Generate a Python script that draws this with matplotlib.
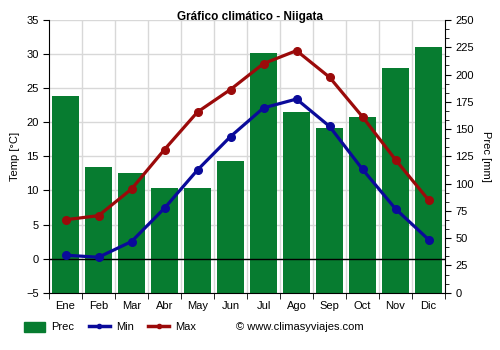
import matplotlib
matplotlib.use("Agg")
import matplotlib.pyplot as plt
import numpy as np
from matplotlib.ticker import MultipleLocator, FixedLocator
from matplotlib.patches import Patch
from matplotlib.lines import Line2D

plt.rcParams["font.family"] = ["Liberation Sans", "DejaVu Sans"]

months = ["Ene", "Feb", "Mar", "Abr", "May", "Jun", "Jul", "Ago", "Sep", "Oct", "Nov", "Dic"]
prec = [180, 115, 110, 96, 96, 121, 220, 166, 151, 161, 206, 225]
t_min = [0.5, 0.2, 2.5, 7.4, 13.0, 17.9, 22.1, 23.4, 19.4, 13.1, 7.3, 2.8]
t_max = [5.7, 6.3, 10.2, 16.0, 21.5, 24.8, 28.6, 30.5, 26.6, 20.8, 14.5, 8.6]

GREEN = "#077c30"
BLUE = "#0a0a9a"
RED = "#9b0a0a"

fig = plt.figure(figsize=(5, 3.5), dpi=100)
ax = fig.add_axes([0.098, 0.1637, 0.792, 0.7793])
ax2 = ax.twinx()

x = np.arange(len(months))

# precipitation on the right axis, drawn behind the temperature lines
ax2.bar(x, prec, width=0.8, color=GREEN, zorder=2)
ax2.set_ylim(0, 250)
ax2.yaxis.set_major_locator(MultipleLocator(25))
ax2.yaxis.set_minor_locator(MultipleLocator(25 / 3))
ax2.set_ylabel("Prec [mm]", fontsize=8, rotation=270, labelpad=12)

ax.set_zorder(ax2.get_zorder() + 1)
ax.patch.set_visible(False)

ax.plot(x, t_min, color=BLUE, lw=2.3, marker="o", ms=5.5, zorder=4)
ax.plot(x, t_max, color=RED, lw=2.3, marker="o", ms=5.5, zorder=4)
ax.axhline(0, color="black", lw=1, zorder=3)

ax.set_ylim(-5, 35)
ax.set_xlim(-0.5, 11.5)
ax.yaxis.set_major_locator(MultipleLocator(5))
ax.set_xticks(x)
ax.set_xticklabels(months)
ax.xaxis.set_minor_locator(FixedLocator(np.arange(-0.5, 12, 1)))
ax.tick_params(axis="x", which="major", length=0, pad=6)
ax.tick_params(axis="x", which="minor", length=4)
ax.set_ylabel("Temp [°C]", fontsize=8)

# grid lines drawn on the bar axis so they stay behind the bars
for v in np.arange(-5, 36, 5):
    ax2.axhline((v + 5) * 6.25, color="#d8d8d8", lw=1, zorder=1)
for b in np.arange(0.5, 11, 1):
    ax2.axvline(b, color="#d8d8d8", lw=1, zorder=1)

for a in (ax, ax2):
    a.tick_params(labelsize=8, colors="black")
    a.tick_params(axis="y", which="major", length=4)
    a.tick_params(axis="y", which="minor", length=3)
    for s in a.spines.values():
        s.set_visible(False)
ax.spines["left"].set_visible(True)
ax.spines["bottom"].set_visible(True)
ax2.spines["right"].set_visible(True)

fig.text(0.5, 1 - 17 / 350, "Gráfico climático - Niigata", ha="center", va="center",
         fontsize=8.5, fontweight="bold")

handles = [
    Patch(color=GREEN, label="Prec"),
    Line2D([0], [0], color=BLUE, lw=2.5, marker="o", ms=3, label="Min"),
    Line2D([0], [0], color=RED, lw=2.5, marker="o", ms=3, label="Max"),
]
fig.legend(handles=handles, loc="center left", bbox_to_anchor=(0.028, 1 - 327 / 350),
           ncol=3, frameon=False, fontsize=8, handlelength=1.9, handleheight=1.0,
           columnspacing=1.3, handletextpad=0.55)
fig.text(0.472, 1 - 327 / 350, "© www.climasyviajes.com", ha="left", va="center", fontsize=8)

fig.savefig("out.png", dpi=100)
